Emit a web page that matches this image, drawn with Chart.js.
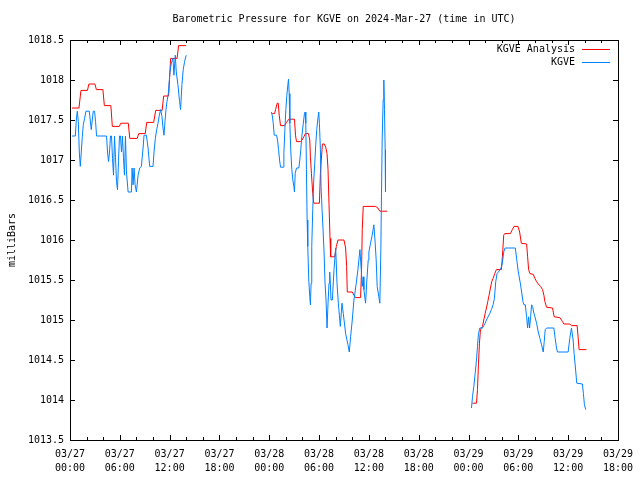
<!DOCTYPE html>
<html>
<head>
<meta charset="utf-8">
<title>Barometric Pressure for KGVE</title>
<script src="https://cdn.jsdelivr.net/npm/chart.js@4/dist/chart.umd.min.js"></script>
<style>
  html, body { margin: 0; padding: 0; background: #fff; }
  #chart { display: block; }
</style>
</head>
<body>
<canvas id="chart" width="640" height="480"></canvas>
<script>
// hours since 2024-03-27 00:00 UTC, null = no data
const analysisHours = [
  0.24, 1.08, 1.32, 2.10, 2.28, 3.00, 3.18, 3.96, 4.14, 4.92, 5.10, 5.94, 6.12, 7.02, 7.20, 8.10, 8.28, 9.06, 9.24, 10.08,
  10.32, 11.10, 11.28, 11.88, 12.12, 12.90, 13.08, 13.98,
  19,
  24.36, 24.64, 24.76, 24.96, 25.08, 25.20, 25.36, 25.84, 26.08, 26.36, 27.04, 27.16, 27.28, 27.76, 27.96, 28.16, 28.36, 28.72, 28.88, 28.96,
  29.08, 29.24, 29.36, 30.04, 30.16, 30.40, 30.64, 30.80, 30.96, 31.08, 31.20, 31.32, 31.40, 31.88, 32.08, 32.28, 33.00, 33.20, 33.32, 33.40,
  34.00, 34.20, 34.40, 35.00, 35.12, 35.20, 35.32, 36.80, 37.08, 37.32, 38.20,
  43,
  48.48, 48.96, 49.08, 49.20, 49.32, 49.44, 49.68, 49.84, 50.00, 50.16, 50.32, 50.48, 50.64, 50.80, 50.96, 51.16, 51.36, 51.96, 52.08, 52.24,
  52.36, 53.04, 53.28, 53.48, 53.96, 54.16, 54.36, 55.00, 55.12, 55.24, 55.40, 55.80, 56.00, 56.20, 56.40, 56.68, 56.92, 57.08, 57.20, 57.40,
  58.12, 58.32, 59.00, 59.32, 59.48, 60.20, 60.40, 61.08, 61.20, 61.32, 62.20
];
const analysisMb = [
  1017.65, 1017.65, 1017.87, 1017.87, 1017.95, 1017.95, 1017.88, 1017.88, 1017.68, 1017.68, 1017.42, 1017.42, 1017.46, 1017.46, 1017.27, 1017.27, 1017.33, 1017.33, 1017.47, 1017.47,
  1017.62, 1017.62, 1017.80, 1017.80, 1018.27, 1018.27, 1018.43, 1018.43,
  null,
  1017.58, 1017.58, 1017.63, 1017.71, 1017.71, 1017.56, 1017.43, 1017.43, 1017.47, 1017.51, 1017.51, 1017.31, 1017.23, 1017.23, 1017.25, 1017.29, 1017.33, 1017.33, 1017.25, 1017.04,
  1016.83, 1016.58, 1016.46, 1016.46, 1016.83, 1017.20, 1017.20, 1017.16, 1017.08, 1016.88, 1016.44, 1016.02, 1015.79, 1015.79, 1015.92, 1016.00, 1016.00, 1015.90, 1015.67, 1015.35,
  1015.35, 1015.31, 1015.28, 1015.28, 1015.63, 1016.13, 1016.42, 1016.42, 1016.40, 1016.36, 1016.36,
  null,
  1013.96, 1013.96, 1014.13, 1014.46, 1014.71, 1014.88, 1014.92, 1015.00, 1015.08, 1015.15, 1015.23, 1015.31, 1015.40, 1015.48, 1015.52, 1015.58, 1015.63, 1015.63, 1015.79, 1016.06,
  1016.08, 1016.08, 1016.13, 1016.17, 1016.17, 1016.10, 1015.96, 1015.95, 1015.79, 1015.63, 1015.58, 1015.57, 1015.52, 1015.48, 1015.45, 1015.42, 1015.38, 1015.31, 1015.23, 1015.16,
  1015.15, 1015.04, 1015.03, 1014.98, 1014.95, 1014.95, 1014.93, 1014.93, 1014.79, 1014.63, 1014.63
];

const stationHours = [
  0.24, 0.64, 0.76, 0.88, 1.00, 1.12, 1.24, 1.36, 1.48, 1.60, 1.76, 1.92, 2.32, 2.44, 2.56, 2.68, 2.80, 2.96, 3.08, 3.20,
  4.40, 4.52, 4.64, 4.76, 4.88, 5.00, 5.12, 5.24, 5.36, 5.48, 5.60, 5.72, 5.84, 5.96, 6.08, 6.20, 6.32, 6.44, 6.56, 6.68,
  6.80, 7.00, 7.40, 7.48, 7.60, 7.72, 7.84, 8.00, 8.20, 8.40, 8.60, 8.80, 8.92, 9.20, 9.40, 9.60, 10.00, 10.12, 10.28, 10.44,
  10.60, 10.76, 10.92, 11.08, 11.20, 11.32, 11.44, 11.56, 11.68, 11.84, 12.04, 12.20, 12.40, 12.52, 12.68, 12.80, 13.00, 13.20, 13.32, 13.48,
  13.64, 13.80, 14.00,
  19,
  24.24, 24.36, 24.48, 24.60, 24.88, 25.00, 25.12, 25.24, 25.36, 25.68, 25.76, 25.88, 26.00, 26.12, 26.24, 26.32, 26.40, 26.48, 26.60, 26.72,
  26.84, 26.96, 27.04, 27.12, 27.28, 27.56, 27.68, 27.80, 27.92, 28.08, 28.24, 28.32, 28.40, 28.48, 28.56, 28.64, 28.76, 28.88, 28.96, 29.04,
  29.12, 29.24, 29.36, 29.48, 29.60, 29.72, 29.84, 29.96, 30.04, 30.16, 30.24, 30.36, 30.48, 30.60, 30.72, 30.84, 30.96, 31.08, 31.20, 31.28,
  31.36, 31.44, 31.60, 31.80, 32.00, 32.16, 32.32, 32.56, 32.76, 32.92, 33.20, 33.48, 33.64, 33.80, 34.00, 34.20, 34.48, 34.68, 34.92, 35.08,
  35.20, 35.32, 35.40, 35.60, 35.76, 35.92, 36.00, 36.20, 36.40, 36.60, 36.76, 36.88, 37.00, 37.20, 37.32, 37.44, 37.52, 37.60, 37.72, 37.80,
  37.88, 37.96, 38.00,
  43,
  48.36, 48.48, 48.64, 48.80, 48.96, 49.08, 49.20, 49.36, 49.68, 49.84, 50.00, 50.16, 50.36, 50.56, 50.76, 50.96, 51.12, 51.28, 51.44, 51.60,
  51.92, 52.08, 52.24, 52.40, 53.64, 53.84, 54.00, 54.24, 54.40, 54.56, 54.68, 54.84, 55.00, 55.12, 55.24, 55.36, 55.48, 55.60, 55.72, 55.84,
  56.00, 56.20, 56.40, 56.60, 56.80, 57.00, 57.12, 57.24, 57.40, 58.28, 58.44, 58.60, 58.72, 60.00, 60.20, 60.40, 60.60, 60.72, 60.88, 61.04,
  61.72, 61.84, 61.96, 62.12
];
const stationMb = [
  1017.30, 1017.30, 1017.50, 1017.61, 1017.48, 1017.10, 1016.92, 1017.10, 1017.29, 1017.44, 1017.52, 1017.61, 1017.61, 1017.50, 1017.38, 1017.50, 1017.61, 1017.61, 1017.48, 1017.30,
  1017.30, 1017.10, 1016.98, 1017.10, 1017.30, 1017.30, 1017.02, 1016.81, 1017.30, 1017.03, 1016.73, 1016.63, 1016.98, 1017.30, 1017.30, 1017.10, 1017.30, 1017.03, 1016.81, 1017.30,
  1016.85, 1016.60, 1016.60, 1016.90, 1016.69, 1016.90, 1016.69, 1016.60, 1016.81, 1016.90, 1016.92, 1017.15, 1017.31, 1017.31, 1017.15, 1016.92, 1016.92, 1017.10, 1017.27, 1017.38,
  1017.46, 1017.56, 1017.63, 1017.54, 1017.40, 1017.31, 1017.48, 1017.63, 1017.73, 1017.83, 1018.10, 1018.21, 1018.27, 1018.06, 1018.31, 1018.10, 1017.94, 1017.73, 1017.63, 1017.94,
  1018.13, 1018.23, 1018.31,
  null,
  1017.60, 1017.56, 1017.46, 1017.31, 1017.31, 1017.25, 1017.13, 1017.00, 1016.91, 1016.91, 1017.08, 1017.38, 1017.63, 1017.81, 1017.94, 1018.01, 1017.83, 1017.46, 1017.10, 1016.88,
  1016.75, 1016.67, 1016.60, 1016.83, 1016.90, 1016.90, 1017.00, 1017.13, 1017.29, 1017.44, 1017.58, 1017.60, 1017.46, 1016.88, 1016.25, 1015.92, 1015.50, 1015.29, 1015.19, 1015.46,
  1015.92, 1016.38, 1016.75, 1016.96, 1017.19, 1017.38, 1017.50, 1017.60, 1017.46, 1017.13, 1016.67, 1016.38, 1016.13, 1015.85, 1015.46, 1015.25, 1014.90, 1015.21, 1015.46, 1015.60,
  1015.46, 1015.25, 1015.25, 1015.63, 1015.90, 1015.46, 1015.21, 1014.92, 1015.21, 1015.08, 1014.83, 1014.69, 1014.60, 1014.79, 1015.00, 1015.25, 1015.46, 1015.63, 1015.88, 1015.63,
  1015.42, 1015.54, 1015.38, 1015.21, 1015.50, 1015.75, 1015.85, 1015.96, 1016.06, 1016.19, 1015.96, 1015.75, 1015.42, 1015.29, 1015.21, 1015.88, 1016.58, 1017.25, 1017.75, 1018.00,
  1017.63, 1017.13, 1016.60,
  null,
  1013.90, 1014.04, 1014.17, 1014.33, 1014.50, 1014.67, 1014.83, 1014.90, 1014.90, 1014.93, 1014.96, 1015.00, 1015.04, 1015.08, 1015.13, 1015.19, 1015.27, 1015.48, 1015.58, 1015.60,
  1015.65, 1015.71, 1015.85, 1015.90, 1015.90, 1015.73, 1015.60, 1015.46, 1015.35, 1015.23, 1015.19, 1015.19, 1015.04, 1014.90, 1015.04, 1014.90, 1015.04, 1015.19, 1015.17, 1015.10,
  1015.04, 1014.96, 1014.85, 1014.77, 1014.69, 1014.60, 1014.73, 1014.88, 1014.90, 1014.90, 1014.77, 1014.65, 1014.60, 1014.60, 1014.77, 1014.90, 1014.75, 1014.58, 1014.40, 1014.21,
  1014.20, 1014.08, 1013.94, 1013.88
];

const tickDates = ["03/27", "03/27", "03/27", "03/27", "03/28", "03/28", "03/28", "03/28", "03/29", "03/29", "03/29", "03/29"];
const tickTimes = ["00:00", "06:00", "12:00", "18:00", "00:00", "06:00", "12:00", "18:00", "00:00", "06:00", "12:00", "18:00"];
const seriesNames = ["KGVE Analysis", "KGVE"];
const seriesColors = ["#ff0000", "#0080ff"];

const FONT = "'DejaVu Sans Mono', 'Liberation Mono', monospace";

function toPoints(hours, values) {
  return hours.map((h, i) => ({ x: h, y: values[i] }));
}

// gnuplot-like frame, inward ticks, title and key
const gnuplotLook = {
  id: "gnuplotLook",
  afterDraw(chart) {
    const ctx = chart.ctx;
    const a = chart.chartArea;
    const xs = chart.scales.x;
    const ys = chart.scales.y;
    ctx.save();
    ctx.strokeStyle = "#000";
    ctx.lineWidth = 1;
    ctx.beginPath();
    for (let h = 0; h <= 66; h += 2) {
      const x = Math.round(xs.getPixelForValue(h)) + 0.5;
      const len = h % 6 === 0 ? 5 : 3;
      ctx.moveTo(x, a.bottom); ctx.lineTo(x, a.bottom - len);
      ctx.moveTo(x, a.top); ctx.lineTo(x, a.top + len);
    }
    for (let v = 1013.5; v <= 1018.5; v += 0.5) {
      const y = Math.round(ys.getPixelForValue(v)) + 0.5;
      ctx.moveTo(a.left, y); ctx.lineTo(a.left + 5, y);
      ctx.moveTo(a.right, y); ctx.lineTo(a.right - 5, y);
    }
    ctx.stroke();
    ctx.strokeRect(Math.round(a.left) + 0.5, Math.round(a.top) + 0.5,
      Math.round(a.right - a.left), Math.round(a.bottom - a.top));

    ctx.fillStyle = "#000";
    ctx.font = "10px " + FONT;
    ctx.textBaseline = "middle";
    ctx.textAlign = "center";
    ctx.fillText("Barometric Pressure for KGVE on 2024-Mar-27 (time in UTC)", (a.left + a.right) / 2, 19);

    ctx.textAlign = "right";
    seriesNames.forEach((name, i) => {
      const y = 49 + i * 13;
      ctx.fillStyle = "#000";
      ctx.fillText(name, 575, y);
      ctx.strokeStyle = seriesColors[i];
      ctx.beginPath();
      ctx.moveTo(582, y + 0.5);
      ctx.lineTo(610, y + 0.5);
      ctx.stroke();
    });
    ctx.restore();
  }
};

new Chart(document.getElementById("chart"), {
  type: "line",
  data: {
    datasets: [
      {
        label: seriesNames[0],
        data: toPoints(analysisHours, analysisMb),
        borderColor: seriesColors[0],
        borderWidth: 1,
        pointRadius: 0,
        tension: 0,
        spanGaps: false,
        order: 2
      },
      {
        label: seriesNames[1],
        data: toPoints(stationHours, stationMb),
        borderColor: seriesColors[1],
        borderWidth: 1,
        pointRadius: 0,
        tension: 0,
        spanGaps: false,
        order: 1
      }
    ]
  },
  options: {
    responsive: false,
    animation: false,
    devicePixelRatio: 1,
    layout: { padding: { top: 40, right: 20, left: 0, bottom: 0 } },
    plugins: {
      legend: { display: false },
      title: { display: false },
      tooltip: { enabled: false }
    },
    scales: {
      x: {
        type: "linear",
        min: 0,
        max: 66,
        afterBuildTicks: scale => {
          scale.ticks = tickDates.map((d, i) => ({ value: i * 6 }));
        },
        afterFit: scale => { scale.height = 40; },
        grid: { display: false, drawTicks: false },
        border: { display: false },
        ticks: {
          autoSkip: false,
          maxRotation: 0,
          padding: 7,
          color: "#000",
          font: { family: FONT, size: 10, lineHeight: 1.4 },
          callback: (v, i) => [tickDates[i], tickTimes[i]]
        }
      },
      y: {
        min: 1013.5,
        max: 1018.5,
        afterFit: scale => { scale.width = 70; },
        grid: { display: false, drawTicks: false },
        border: { display: false },
        ticks: {
          stepSize: 0.5,
          padding: 6,
          color: "#000",
          font: { family: FONT, size: 10 },
          callback: v => String(Math.round(v * 10) / 10)
        },
        title: {
          display: true,
          text: "milliBars",
          color: "#000",
          padding: { top: 6, bottom: 0 },
          font: { family: FONT, size: 10 }
        }
      }
    }
  },
  plugins: [gnuplotLook]
});
</script>
</body>
</html>
